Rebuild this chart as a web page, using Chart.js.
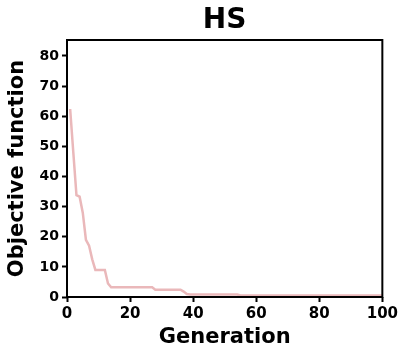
<!DOCTYPE html>
<html>
<head>
<meta charset="utf-8">
<script src="https://cdn.jsdelivr.net/npm/chart.js@4/dist/chart.umd.min.js"></script>
<style>
  html, body { margin: 0; padding: 0; background: #fff; }
  #wrap { width: 401px; height: 354px; }
</style>
</head>
<body>
<div id="wrap"><canvas id="hsChart" width="401" height="354"></canvas></div>
<script>
// best objective value per generation (HS run)
var generations = [];
for (var g = 1; g <= 100; g++) generations.push(g);

var objective = [
  62.4, 48.0, 33.8, 33.3, 28.0, 19.0, 17.0, 12.5, 9.0, 9.0,
  9.0, 9.0, 4.5, 3.2, 3.2, 3.2, 3.2, 3.2, 3.2, 3.2,
  3.2, 3.2, 3.2, 3.2, 3.2, 3.2, 3.2, 2.4, 2.4, 2.4,
  2.4, 2.4, 2.4, 2.4, 2.4, 2.4, 1.8, 1.0, 0.8, 0.8,
  0.8, 0.8, 0.8, 0.8, 0.8, 0.8, 0.8, 0.8, 0.8, 0.8,
  0.8, 0.8, 0.8, 0.8, 0.5, 0.5, 0.5, 0.5, 0.5, 0.5,
  0.5, 0.5, 0.5, 0.5, 0.5, 0.5, 0.5, 0.5, 0.5, 0.5,
  0.5, 0.5, 0.5, 0.5, 0.5, 0.5, 0.5, 0.5, 0.5, 0.5,
  0.5, 0.5, 0.5, 0.5, 0.5, 0.5, 0.5, 0.5, 0.5, 0.5,
  0.5, 0.5, 0.5, 0.5, 0.5, 0.5, 0.5, 0.5, 0.5, 0.5
];

var xTicks = [0, 20, 40, 60, 80, 100];
var yTicks = [0, 10, 20, 30, 40, 50, 60, 70, 80];

var FONT = "'DejaVu Sans', sans-serif";

// box around the plot + title on top
var framePlugin = {
  id: 'frame',
  afterDraw: function(chart) {
    var ctx = chart.ctx, a = chart.chartArea;
    ctx.save();
    ctx.strokeStyle = '#000';
    ctx.lineWidth = 2;
    ctx.strokeRect(a.left, a.top, a.right - a.left, a.bottom - a.top);
    ctx.fillStyle = '#000';
    ctx.font = 'bold 28px ' + FONT;
    ctx.textAlign = 'center';
    ctx.textBaseline = 'middle';
    ctx.fillText('HS', (a.left + a.right) / 2, 21);
    ctx.restore();
  }
};

var points = generations.map(function(g, i) { return { x: g, y: objective[i] }; });

var ctx = document.getElementById('hsChart').getContext('2d');
var chart = new Chart(ctx, {
  type: 'line',
  data: {
    datasets: [{
      data: points,
      borderColor: 'rgb(234,184,186)',
      borderWidth: 2.5,
      pointRadius: 0,
      tension: 0,
      fill: false
    }]
  },
  options: {
    responsive: false,
    animation: false,
    layout: { padding: { top: 40, right: 18, left: 0, bottom: 0 } },
    plugins: { legend: { display: false }, tooltip: { enabled: false } },
    scales: {
      x: {
        type: 'linear',
        min: 0,
        max: 100,
        afterFit: function(s) { s.height = 57; },
        afterBuildTicks: function(s) { s.ticks = xTicks.map(function(v) { return { value: v }; }); },
        grid: { drawOnChartArea: false, drawTicks: true, tickLength: 5, tickWidth: 2, tickColor: '#000' },
        border: { display: false },
        ticks: { color: '#000', font: { family: FONT, weight: 'bold', size: 15 }, padding: 3, maxRotation: 0 },
        title: { display: true, text: 'Generation', color: '#000', font: { family: FONT, weight: 'bold', size: 21 }, padding: { top: 0, bottom: 4 } }
      },
      y: {
        min: 0,
        max: 85.3,
        afterFit: function(s) { s.width = 67; },
        afterBuildTicks: function(s) { s.ticks = yTicks.map(function(v) { return { value: v }; }); },
        grid: { drawOnChartArea: false, drawTicks: true, tickLength: 5, tickWidth: 2, tickColor: '#000' },
        border: { display: false },
        ticks: { color: '#000', font: { family: FONT, weight: 'bold', size: 14 }, padding: 3 },
        title: { display: true, text: 'Objective function', color: '#000', font: { family: FONT, weight: 'bold', size: 21 }, padding: { top: 5, bottom: 2 } }
      }
    }
  },
  plugins: [framePlugin]
});
</script>
</body>
</html>
